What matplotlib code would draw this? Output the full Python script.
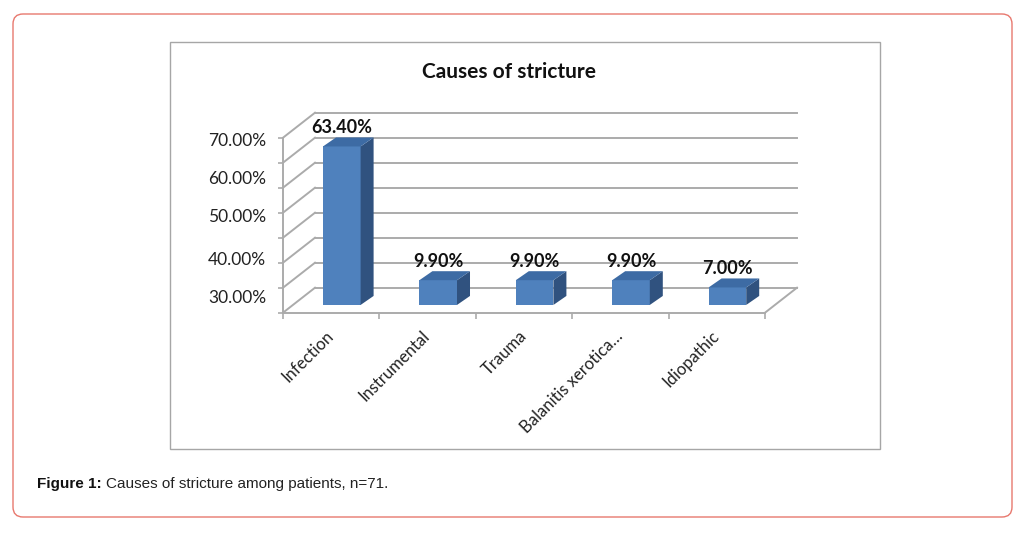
import matplotlib
matplotlib.use("Agg")
import matplotlib.pyplot as plt
from matplotlib.patches import FancyBboxPatch, Rectangle

# data
categories = ["Infection", "Instrumental", "Trauma", "Balanitis xerotica…", "Idiopathic"]
values = [63.4, 9.9, 9.9, 9.9, 7.0]
value_labels = ["63.40%", "9.90%", "9.90%", "9.90%", "7.00%"]
grid_values = [0, 10, 20, 30, 40, 50, 60, 70]
ytick_labels = ["70.00%", "60.00%", "50.00%", "40.00%", "30.00%"]
ytick_pos = [69.1, 54.1, 38.9, 21.8, 6.4]   # where the labels sit in the picture

W, H = 1034, 533
fig = plt.figure(figsize=(W / 100, H / 100), dpi=100)

# page frame (pixel space)
bg = fig.add_axes([0, 0, 1, 1])
bg.set_xlim(0, W)
bg.set_ylim(H, 0)
bg.axis("off")
bg.add_patch(FancyBboxPatch((13, 14), 999, 503, boxstyle="round,pad=0,rounding_size=10",
                            fc="white", ec="#E8786E", lw=1.0))
bg.add_patch(Rectangle((170, 42), 710, 407, fc="white", ec="#A6A6A6", lw=1.0))

# 3d-ish chart: front plane origin at (283, 312.7) px, 96.4 px per category, 2.5 px per %
slot_px, pct_px = 96.4, 2.5
x0, y0 = 283, 312.7
xmax, ymax = 5.5, 85
ax = fig.add_axes([x0 / W, (H - y0) / H, xmax * slot_px / W, ymax * pct_px / H])
ax.set_xlim(0, xmax)
ax.set_ylim(0, ymax)
ax.patch.set_alpha(0)

dx, dy = 32 / slot_px, 10.0          # full depth of the box
bx, by = 0.11, 3.1                   # front face of bars
sx, sy = 13 / slot_px, 3.6           # bar depth
bw = 0.39
gcol = "#ABABAB"
n = len(categories)

for v in grid_values:
    ax.plot([dx, n + dx], [v + dy, v + dy], color=gcol, lw=1.4, zorder=1, clip_on=False)
    ax.plot([0, dx], [v, v + dy], color=gcol, lw=1.4, zorder=1, clip_on=False)
ax.plot([n, n + dx], [0, dy], color=gcol, lw=1.4, zorder=1, clip_on=False)

front = "#4F81BD"
side = "#30527F"
top = "#3D6BA4"
for i, v in enumerate(values):
    xl = i + 0.5 + bx - bw / 2
    xr = xl + bw
    ax.bar(xl, v, width=bw, bottom=by, align="edge", color=front, zorder=3)
    ax.fill([xr, xr + sx, xr + sx, xr], [by, by + sy, by + v + sy, by + v],
            color=side, zorder=3, lw=0)
    ax.fill([xl, xr, xr + sx, xl + sx], [by + v, by + v, by + v + sy, by + v + sy],
            color=top, zorder=3, lw=0)
    ax.annotate(value_labels[i], (i + 0.5 + bx, by + v + sy), xytext=(0, 1),
                textcoords="offset points", ha="center", va="bottom",
                fontsize=13, fontweight="bold", family="Lato", color="#111111")

for s in ["top", "right"]:
    ax.spines[s].set_visible(False)
for s in ["left", "bottom"]:
    ax.spines[s].set_color(gcol)
    ax.spines[s].set_linewidth(1.4)
ax.spines["left"].set_bounds(0, 70)
ax.spines["bottom"].set_bounds(0, n)

ax.set_yticks(ytick_pos, ytick_labels)
ax.set_yticks(grid_values, minor=True)
ax.tick_params(axis="y", which="major", length=0, pad=12, labelsize=12.5, labelcolor="#222222")
ax.tick_params(axis="y", which="minor", length=3.5, color=gcol, width=1.2)

ax.set_xticks([i + 0.5 for i in range(n)], categories)
ax.set_xticks(range(n + 1), minor=True)
ax.tick_params(axis="x", which="major", length=0, pad=15, labelsize=12, labelcolor="#222222")
ax.tick_params(axis="x", which="minor", length=4, color=gcol, width=1.2)
for lab in ax.get_xticklabels():
    lab.set_rotation(45)
    lab.set_ha("right")
    lab.set_va("center")
    lab.set_rotation_mode("anchor")
    lab.set_family("Lato")
    lab.set_x(lab.get_position()[0])
for lab in ax.get_yticklabels():
    lab.set_family("Lato")

fig.text(509.5 / W, 1 - 72 / H, "Causes of stricture", ha="center", va="center",
         fontsize=15, fontweight="bold", family="Lato", color="#111111")

# caption
cap1 = fig.text(37 / W, 1 - 484 / H, "Figure 1:", ha="left", va="center",
                fontsize=11, fontweight="bold", family="Liberation Sans", color="#111111")
r = fig.canvas.get_renderer()
bb = cap1.get_window_extent(renderer=r)
fig.text((bb.x1 + 4) / W, 1 - 484 / H, "Causes of stricture among patients, n=71.",
         ha="left", va="center", fontsize=11, family="Liberation Sans", color="#222222")

fig.savefig("out.png", dpi=100)
